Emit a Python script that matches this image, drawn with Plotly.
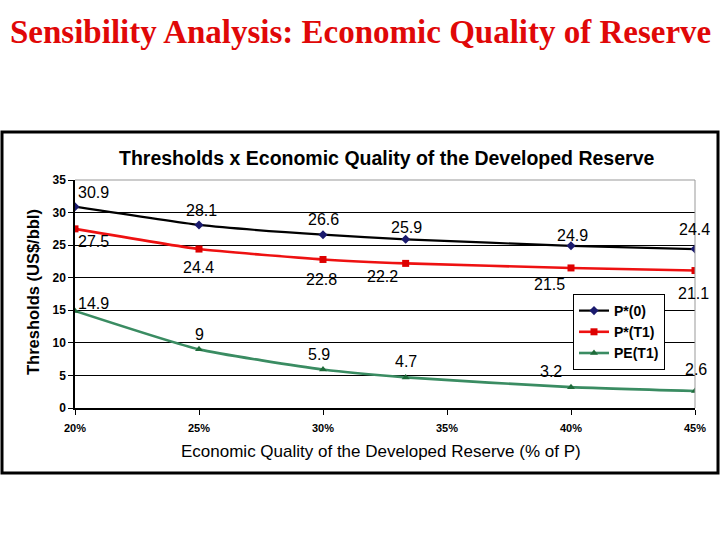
import plotly.graph_objects as go

# ---- data ----
quality = [0.20, 0.25, 0.30, 1/3, 0.40, 0.45]
p0 = [30.9, 28.1, 26.6, 25.9, 24.9, 24.4]
pt1 = [27.5, 24.4, 22.8, 22.2, 21.5, 21.1]
pe = [14.9, 9, 5.9, 4.7, 3.2, 2.6]
series_names = ["P*(0)", "P*(T1)", "PE(T1)"]
x_ticks = [0.20, 0.25, 0.30, 0.35, 0.40, 0.45]
y_ticks = [0, 5, 10, 15, 20, 25, 30, 35]

# label pixel offsets (dx, dy) per series point
off_p0 = [(18, 14), (2, 14), (0, 15), (1, 12), (1, 10), (-1, 20)]
off_pt1 = [(18, -13), (-1, -18), (-2, -20), (-23, -13), (-22, -17), (-2, -23)]
off_pe = [(18, 7), (0, 15), (-4, 15), (0, 16), (-20, 16), (1, 22)]

W, H = 720, 540
L, R, T, B = 75, 25, 180, 132
pw, ph = W - L - R, H - T - B

def px(x):
    return (x - L) / pw

def py(y):
    return (H - B - y) / ph

FONT = "Liberation Sans, Arial"

fig = go.Figure()
styles = [
    dict(line=dict(color="#000000", width=2.2), marker=dict(symbol="diamond", size=7, color="#1a1a6e")),
    dict(line=dict(color="#ee1111", width=2.6), marker=dict(symbol="square", size=7, color="#dd0000")),
    dict(line=dict(color="#3a8c62", width=2.6), marker=dict(symbol="triangle-up", size=7, color="#1f6b3a")),
]
for name, ys, st in zip(series_names, [p0, pt1, pe], styles):
    fig.add_trace(go.Scatter(x=quality, y=ys, mode="lines+markers", name=name,
                             line=dict(shape="spline", smoothing=0.5, **st["line"]),
                             marker=st["marker"]))

annotations = []
for ys, offs in [(p0, off_p0), (pt1, off_pt1), (pe, off_pe)]:
    for x, y, (dx, dy) in zip(quality, ys, offs):
        annotations.append(dict(x=x, y=y, xref="x", yref="y", text=f"{y:g}", showarrow=False,
                                xshift=dx, yshift=dy, xanchor="center", yanchor="middle",
                                font=dict(family=FONT, size=16, color="black")))

annotations += [
    dict(x=px(360), y=py(32), xref="paper", yref="paper", yanchor="middle", xanchor="center",
         text="<b>Sensibility Analysis: Economic Quality of Reserve</b>", showarrow=False,
         font=dict(family="Liberation Serif, Times New Roman", size=33, color="#e00808")),
    dict(x=px(387), y=py(158), xref="paper", yref="paper", xanchor="center", yanchor="middle",
         text="<b>Thresholds x Economic Quality of the Developed Reserve</b>", showarrow=False,
         font=dict(family=FONT, size=19.5, color="black")),
    dict(x=px(381), y=py(451), xref="paper", yref="paper", xanchor="center", yanchor="middle",
         text="Economic Quality of the Developed Reserve (% of P)", showarrow=False,
         font=dict(family=FONT, size=17, color="black")),
    dict(x=px(33), y=py(292), xref="paper", yref="paper", textangle=-90,
         xanchor="center", yanchor="middle",
         text="<b>Thresholds (US$/bbl)</b>", showarrow=False,
         font=dict(family=FONT, size=16.5, color="black")),
]

shapes = [
    dict(type="rect", xref="paper", yref="paper", x0=px(2), x1=px(718), y0=py(473), y1=py(132),
         line=dict(color="black", width=3), layer="below"),
    dict(type="line", xref="paper", yref="paper", x0=0, x1=1, y0=1, y1=1,
         line=dict(color="#999999", width=1)),
    dict(type="line", xref="paper", yref="paper", x0=1, x1=1, y0=0, y1=1,
         line=dict(color="#999999", width=1)),
]

fig.update_layout(
    width=W, height=H,
    margin=dict(l=L, r=R, t=T, b=B),
    paper_bgcolor="white", plot_bgcolor="white",
    showlegend=True,
    legend=dict(x=px(573), y=py(294), xanchor="left", yanchor="top",
                bgcolor="white", bordercolor="black", borderwidth=1,
                font=dict(family=FONT, size=14, color="black", weight="bold"),
                tracegroupgap=0, itemwidth=30),
    annotations=annotations,
    shapes=shapes,
    xaxis=dict(range=[0.20, 0.45], tickvals=x_ticks, tickformat=".0%",
               showgrid=False, zeroline=False, showline=True, linecolor="black", linewidth=1.5,
               ticks="outside", ticklen=5, tickcolor="black", ticklabelstandoff=4,
               tickfont=dict(family=FONT, size=11, color="black", weight="bold")),
    yaxis=dict(range=[0, 35], tickvals=y_ticks,
               showgrid=True, gridcolor="black", gridwidth=1, zeroline=False,
               showline=True, linecolor="black", linewidth=1.5,
               ticks="outside", ticklen=5, tickcolor="black",
               tickfont=dict(family=FONT, size=12, color="black", weight="bold")),
)

fig.write_html("out.html", config={"displayModeBar": False},
               post_script="document.body.style.margin='0';")
